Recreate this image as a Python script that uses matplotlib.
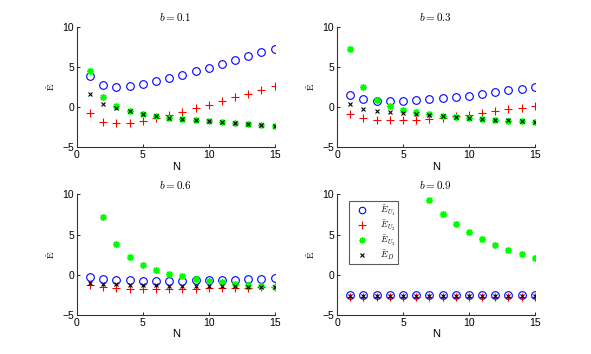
import numpy as np
import matplotlib
matplotlib.use("Agg")
import matplotlib.pyplot as plt

plt.rcParams['font.family'] = ['Liberation Sans', 'DejaVu Sans']
plt.rcParams['mathtext.fontset'] = 'cm'

N = np.arange(1, 16)
b_values = [0.1, 0.3, 0.6, 0.9]
nan = np.nan

# b = 0.1
EU1_01 = [3.86, 2.74, 2.55, 2.66, 2.9, 3.2, 3.57, 3.98, 4.44, 4.85, 5.31, 5.8, 6.3, 6.8, 7.25]
EU2_01 = [-0.79, -1.87, -2.03, -1.95, -1.7, -1.41, -1.04, -0.62, -0.17, 0.29, 0.79, 1.2, 1.66, 2.16, 2.66]
EU3_01 = [4.52, 1.2, 0.12, -0.5, -0.87, -1.12, -1.33, -1.49, -1.66, -1.78, -1.91, -2.03, -2.12, -2.2, -2.32]
ED_01 = [1.58, 0.37, -0.17, -0.5, -0.83, -1.12, -1.35, -1.5, -1.65, -1.78, -1.9, -2.0, -2.1, -2.2, -2.3]

# b = 0.3
EU1_03 = [1.54, 0.95, 0.79, 0.7, 0.75, 0.87, 1.0, 1.08, 1.24, 1.41, 1.62, 1.83, 2.07, 2.28, 2.49]
EU2_03 = [-0.87, -1.41, -1.62, -1.66, -1.66, -1.58, -1.45, -1.33, -1.16, -0.95, -0.75, -0.5, -0.29, -0.08, 0.12]
EU3_03 = [7.18, 2.45, 0.91, 0.08, -0.33, -0.62, -0.87, -1.08, -1.24, -1.41, -1.54, -1.62, -1.7, -1.78, -1.87]
ED_03 = [0.37, -0.21, -0.5, -0.66, -0.79, -0.87, -1.0, -1.16, -1.29, -1.41, -1.5, -1.58, -1.66, -1.74, -1.83]

# b = 0.6
EU1_06 = [-0.29, -0.53, -0.62, -0.7, -0.74, -0.74, -0.74, -0.74, -0.7, -0.7, -0.66, -0.62, -0.58, -0.53, -0.45]
EU2_06 = [-1.32, -1.56, -1.65, -1.73, -1.73, -1.73, -1.73, -1.73, -1.73, -1.69, -1.69, -1.65, -1.6, -1.56, -1.52]
EU3_06 = [nan, 7.16, 3.87, 2.22, 1.23, 0.58, 0.12, -0.21, -0.49, -0.74, -0.95, -1.11, -1.23, -1.36, -1.48]
ED_06 = [-1.03, -1.15, -1.2, -1.25, -1.28, -1.3, -1.33, -1.35, -1.38, -1.4, -1.42, -1.44, -1.46, -1.48, -1.52]

# b = 0.9
EU1_09 = [-2.45, -2.55, -2.55, -2.55, -2.55, -2.55, -2.55, -2.55, -2.55, -2.55, -2.55, -2.55, -2.55, -2.55, -2.55]
EU2_09 = [-2.75, -2.75, -2.75, -2.75, -2.75, -2.75, -2.75, -2.75, -2.75, -2.75, -2.75, -2.75, -2.75, -2.75, -2.75]
EU3_09 = [nan, nan, nan, nan, nan, nan, 9.26, 7.61, 6.3, 5.27, 4.4, 3.66, 3.09, 2.55, 2.1]
ED_09 = [-2.65, -2.65, -2.65, -2.65, -2.65, -2.65, -2.65, -2.65, -2.65, -2.65, -2.65, -2.65, -2.65, -2.65, -2.65]

panels = [
    (EU1_01, EU2_01, EU3_01, ED_01),
    (EU1_03, EU2_03, EU3_03, ED_03),
    (EU1_06, EU2_06, EU3_06, ED_06),
    (EU1_09, EU2_09, EU3_09, ED_09),
]
labels = [r'$\tilde{E}_{U_1}$', r'$\tilde{E}_{U_2}$', r'$\tilde{E}_{U_3}$', r'$\tilde{E}_{D}$']

fig = plt.figure(figsize=(5.91, 3.54), dpi=100)
positions = [
    [0.130, 0.5838, 0.3347, 0.3412],
    [0.5703, 0.5838, 0.3347, 0.3412],
    [0.130, 0.110, 0.3347, 0.3412],
    [0.5703, 0.110, 0.3347, 0.3412],
]

for i, (b, data) in enumerate(zip(b_values, panels)):
    ax = fig.add_axes(positions[i])
    eu1, eu2, eu3, ed = data
    ax.plot(N, eu1, linestyle='none', marker='o', mfc='none', mec='#0000ff', ms=5.5, mew=0.8, label=labels[0])
    ax.plot(N, eu2, linestyle='none', marker='+', color='#ff0000', ms=6, mew=0.8, label=labels[1])
    ax.plot(N, eu3, linestyle='none', marker=(8, 2, 0), color='#00ff00', mec='#00ff00', ms=5, mew=1.0, label=labels[2])
    ax.plot(N, ed, linestyle='none', marker='x', color='black', ms=3.5, mew=0.8, label=labels[3])
    ax.set_xlim(0, 15)
    ax.set_ylim(-5, 10)
    ax.set_xticks([0, 5, 10, 15])
    ax.set_yticks([-5, 0, 5, 10])
    ax.spines['top'].set_visible(False)
    ax.spines['right'].set_visible(False)
    for s in ('left', 'bottom'):
        ax.spines[s].set_linewidth(0.8)
        ax.spines[s].set_color('#333333')
    ax.tick_params(direction='in', length=2.5, width=0.6, labelsize=7.5, pad=2)
    ax.set_title(r'$b = %s$' % b, fontsize=8, pad=4)
    ax.set_xlabel('N', fontsize=8, labelpad=1)
    ax.set_ylabel(r'$\tilde{\mathrm{E}}$', fontsize=7, labelpad=4)
    if i == 3:
        leg = ax.legend(loc='upper left', fontsize=6.5, frameon=True, fancybox=False,
                        borderpad=0.3, labelspacing=0.1, handletextpad=0.9,
                        handlelength=2.2, markerscale=0.85,
                        bbox_to_anchor=(0.04, 0.985))
        leg.get_frame().set_edgecolor('#333333')
        leg.get_frame().set_linewidth(0.8)

fig.savefig('out.png', dpi=100)
